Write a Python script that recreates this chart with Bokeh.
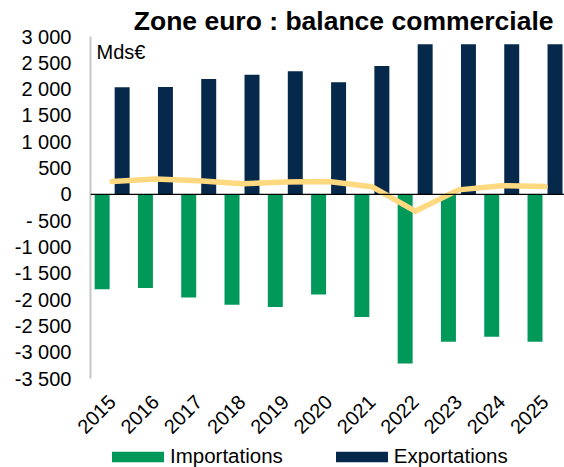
import math
from bokeh.plotting import figure
from bokeh.layouts import column
from bokeh.models import Range1d, FixedTicker, Span, Label, Legend, LegendItem, ColumnDataSource
from bokeh.transform import dodge
from bokeh.embed import file_html
from bokeh.resources import INLINE

# ---- data (Mds€) ----
years = [2015, 2016, 2017, 2018, 2019, 2020, 2021, 2022, 2023, 2024, 2025]
exports = [2035, 2040, 2190, 2275, 2340, 2130, 2440, 2855, 2855, 2855, 2855]
imports = [-1805, -1780, -1960, -2100, -2140, -1905, -2330, -3215, -2800, -2705, -2800]
balance = [245, 290, 258, 200, 234, 245, 145, -320, 85, 164, 150]

y_ticks = [-3500, -3000, -2500, -2000, -1500, -1000, -500, 0, 500, 1000, 1500, 2000, 2500, 3000]
y_tick_labels = ["-3 500", "-3 000", "-2 500", "-2 000", "-1 500", "-1 000", "- 500", "0",
                 "500", "1 000", "1 500", "2 000", "2 500", "3 000"]
x_tick_labels = [str(y) for y in years]

title_text = "Zone euro : balance commerciale"
unit_text = "Mds€"
series_names = ["Importations", "Exportations"]

FONT = "Liberation Sans"
GREEN = "#00995A"
NAVY = "#05284B"
YELLOW = "#FFD97F"

src = ColumnDataSource(dict(year=years, exp=exports, imp=imports, bal=balance))

p = figure(width=564, height=442,
           x_range=Range1d(2014.5, 2025.45), y_range=Range1d(-3500, 3000),
           output_backend="svg", toolbar_location=None,
           min_border_left=90, min_border_top=36, min_border_bottom=61, min_border_right=0)
p.outline_line_color = None
p.xgrid.visible = False
p.ygrid.visible = False
p.background_fill_color = "white"
p.border_fill_color = "white"

p.title.text = title_text
p.title.align = "right"
p.title.offset = 11
p.title.standoff = 2
p.title.text_font = FONT
p.title.text_font_style = "bold"
p.title.text_font_size = "26.5px"
p.title.text_color = "black"

imp_r = p.vbar(x=dodge("year", -0.231), top="imp", bottom=0, width=0.346, source=src,
               fill_color=GREEN, line_color=None)
exp_r = p.vbar(x=dodge("year", 0.231), top="exp", bottom=0, width=0.346, source=src,
               fill_color=NAVY, line_color=None)

p.add_layout(Span(location=0, dimension="width", line_color="black", line_width=1.2))

p.line(x="year", y="bal", source=src, line_color=YELLOW, line_width=5.5,
       line_cap="round", line_join="round")

# axes
p.yaxis.ticker = FixedTicker(ticks=y_ticks)
p.yaxis.major_label_overrides = {t: l for t, l in zip(y_ticks, y_tick_labels)}
p.yaxis.axis_line_color = "#C8C8C8"
p.yaxis.axis_line_width = 2
p.yaxis.major_tick_in = 0
p.yaxis.major_tick_out = 0
p.yaxis.minor_tick_in = 0
p.yaxis.minor_tick_out = 0
p.yaxis.major_label_standoff = 19
p.yaxis.major_label_text_font = FONT
p.yaxis.major_label_text_font_size = "20px"
p.yaxis.major_label_text_color = "black"

p.xaxis.ticker = FixedTicker(ticks=years)
p.xaxis.major_label_overrides = {y: l for y, l in zip(years, x_tick_labels)}
p.xaxis.major_label_orientation = math.pi / 4
p.xaxis.axis_line_color = None
p.xaxis.major_tick_in = 0
p.xaxis.major_tick_out = 0
p.xaxis.minor_tick_in = 0
p.xaxis.minor_tick_out = 0
p.xaxis.major_label_standoff = 20
p.xaxis.major_label_text_font = FONT
p.xaxis.major_label_text_font_size = "20px"
p.xaxis.major_label_text_color = "black"

# unit label inside the frame
p.add_layout(Label(x=6, y=327, x_units="screen", y_units="screen", text=unit_text,
                   text_align="left", text_baseline="middle", text_font=FONT,
                   text_font_size="20px", text_color="black"))

# ---- legend strip below the chart ----
lg = figure(width=564, height=25, x_range=Range1d(0, 1), y_range=Range1d(0, 1),
            output_backend="svg", toolbar_location=None,
            min_border_left=0, min_border_right=0, min_border_top=0, min_border_bottom=0)
lg.axis.visible = False
lg.xgrid.visible = False
lg.ygrid.visible = False
lg.outline_line_color = None
# zero-height placeholder bars: they only carry the legend swatch styles
proxy = ColumnDataSource(dict(x=[0.5], top=[0], bottom=[0]))
li = lg.vbar(x="x", top="top", bottom="bottom", width=0.1, source=proxy,
             fill_color=GREEN, line_color=None)
le = lg.vbar(x="x", top="top", bottom="bottom", width=0.1, source=proxy,
             fill_color=NAVY, line_color=None)

legend = Legend(items=[LegendItem(label=series_names[0], renderers=[li]),
                       LegendItem(label=series_names[1], renderers=[le])],
                orientation="horizontal", location=(15, -1),
                glyph_width=65, glyph_height=13, label_standoff=-1, spacing=46,
                padding=0, margin=0, border_line_color=None, background_fill_alpha=0,
                label_text_font=FONT, label_text_font_size="20.5px", label_text_color="black")
lg.add_layout(legend)

layout = column(p, lg, spacing=0)
open("out.html", "w").write(file_html(layout, INLINE))
